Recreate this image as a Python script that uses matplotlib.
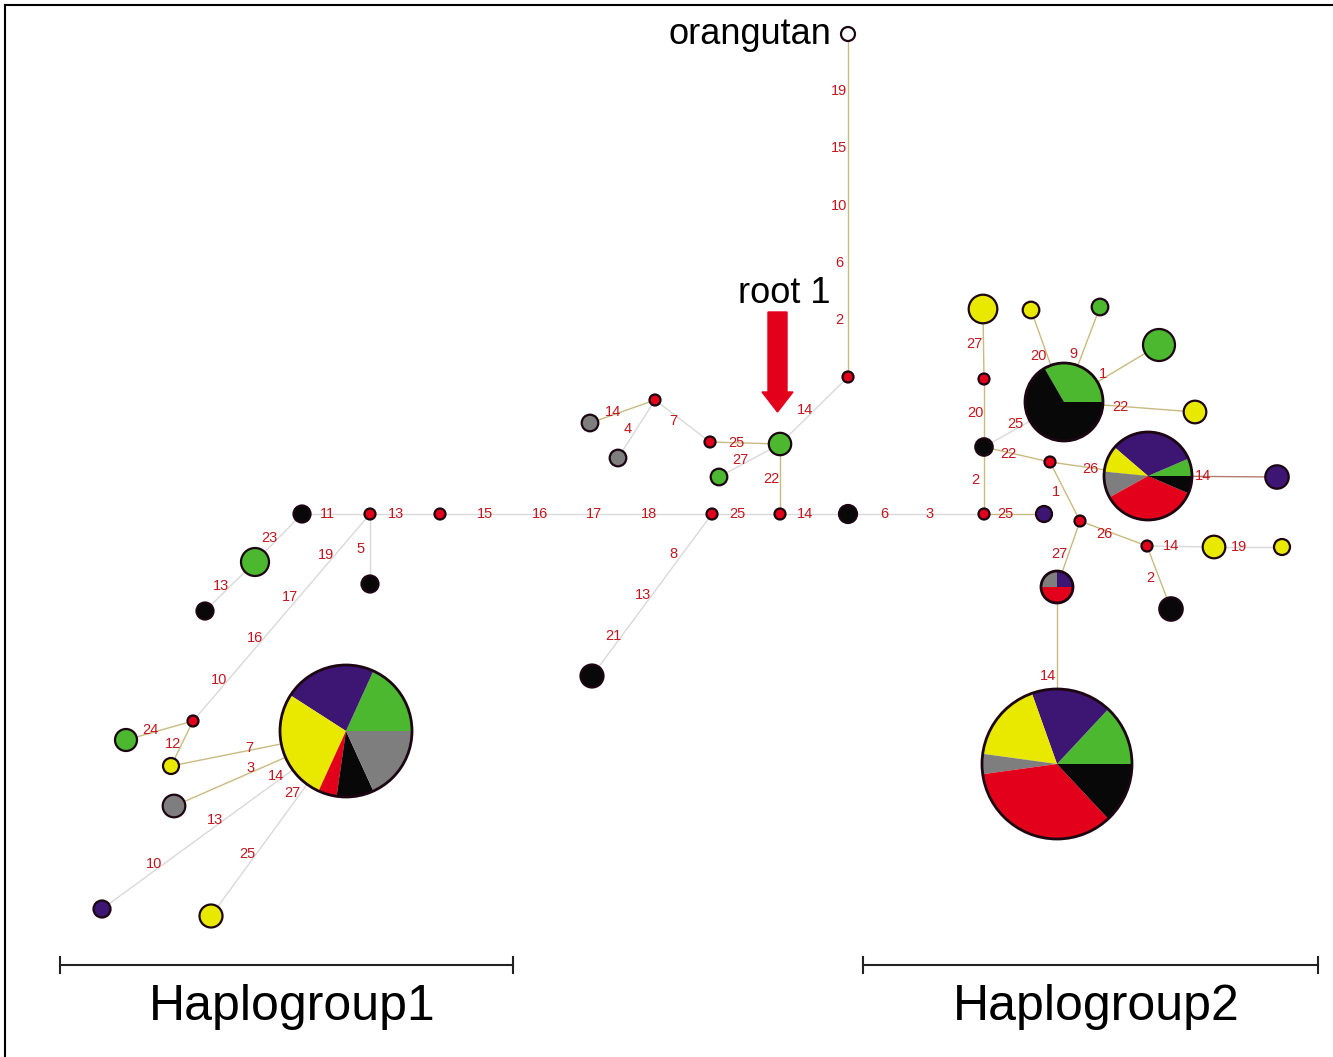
import matplotlib
matplotlib.use("Agg")
import matplotlib.pyplot as plt
from matplotlib.patches import Circle, Wedge, FancyArrow

plt.rcParams["font.family"] = ["Liberation Sans", "DejaVu Sans"]

W, H = 1333, 1057

# haplotype nodes (layout in pixel units, y grows downwards)
node_id = ["b1", "m1", "m2", "m3", "m4", "b2", "m5", "p1",
           "g1", "b3", "b4", "m6", "g2", "y1", "P1", "gr1", "p2", "y2",
           "b5", "g3", "m7", "g4", "m8", "O", "m9", "gr2", "gr3",
           "b6", "m10", "y3", "P2", "y4", "g5", "g6", "y5", "m11", "P3", "p3",
           "m12", "m13", "y6", "y7", "b7", "P4", "P5"]
node_x = [302, 370, 440, 712, 780, 848, 984, 1044,
          255, 205, 370, 193, 126, 171, 346, 174, 102, 211,
          592, 780, 710, 719, 848, 848, 655, 590, 618,
          984, 984, 983, 1064, 1031, 1100, 1159, 1195, 1050, 1148, 1277,
          1080, 1147, 1214, 1282, 1171, 1057, 1057]
node_y = [514, 514, 514, 514, 514, 514, 514, 514,
          562, 611, 584, 721, 740, 766, 731, 806, 909, 916,
          676, 444, 442, 477, 377, 34, 400, 423, 458,
          447, 379, 309, 402, 310, 307, 345, 412, 462, 476, 477,
          521, 546, 547, 547, 609, 587, 764]
node_r = [8.5, 5.5, 5.5, 5.5, 5.5, 9, 5.5, 8,
          14, 8.5, 8.5, 5.5, 11, 8, 66, 11.3, 8.5, 11.5,
          11.5, 11.2, 5.5, 8.3, 5.5, 7, 5.5, 8.3, 8.3,
          8.7, 5.5, 14.3, 39, 8.3, 8.3, 16, 11.3, 5.5, 44, 11.7,
          5.5, 5.5, 11.3, 8, 11.7, 16, 75]
node_kind = ["black", "median", "median", "median", "median", "black", "median", "purple",
             "green", "black", "black", "median", "green", "yellow", "pie", "gray", "purple", "yellow",
             "black", "green", "median", "green", "median", "outgroup", "median", "gray", "gray",
             "black", "median", "yellow", "pie", "yellow", "green", "green", "yellow", "median", "pie", "purple",
             "median", "median", "yellow", "yellow", "black", "pie", "pie"]

# shared haplotypes: slice order counter-clockwise from 3 o'clock
pie_groups = {
    "P1": ["green", "purple", "yellow", "median", "black", "gray"],
    "P2": ["green", "black"],
    "P3": ["green", "purple", "yellow", "gray", "median", "black"],
    "P4": ["purple", "gray", "median"],
    "P5": ["green", "purple", "yellow", "gray", "median", "black"],
}
pie_counts = {
    "P1": [4, 5, 6, 1, 2, 4],
    "P2": [1, 2],
    "P3": [1, 5, 1.5, 1.5, 5.5, 1],
    "P4": [1, 1, 2],
    "P5": [3, 4, 4, 1, 8, 3],
}

# network links and the mutated sites on each
edge_from = ["b1", "m1", "m2", "m3", "m4", "b2", "m5",
             "b1", "g1", "m1", "m1", "m6", "m6",
             "P1", "P1", "P1", "P1",
             "m3", "m4", "g3", "g3", "g3", "m8", "m7", "m9", "m9",
             "m5", "b6", "m10", "b6", "b6", "m11", "P3",
             "m11", "m12", "m13", "y6", "m13", "m12", "P4",
             "P2", "P2", "P2", "P2"]
edge_to = ["m1", "m2", "m3", "m4", "b2", "m5", "p1",
           "g1", "b3", "b4", "m6", "g2", "y1",
           "y1", "gr1", "p2", "y2",
           "b5", "g3", "m7", "g4", "m8", "O", "m9", "gr2", "gr3",
           "b6", "m10", "y3", "P2", "m11", "P3", "p3",
           "m12", "m13", "y6", "y7", "b7", "P4", "P5",
           "y4", "g5", "g6", "y5"]
edge_sites = [[11], [13], [15, 16, 17, 18], [25], [14], [6, 3], [25],
              [23], [13], [5], [19, 17, 16, 10], [24], [12],
              [7], [3], [14, 13, 10], [27, 25],
              [8, 13, 21], [22], [25], [27], [14], [2, 6, 10, 15, 19], [7], [14], [4],
              [2], [20], [27], [25], [22], [26], [14],
              [1], [26], [14], [19], [2], [27], [14],
              [20], [9], [1], [22]]
edge_tone = ["g", "g", "g", "g", "g", "g", "t",
             "g", "g", "g", "g", "t", "t",
             "t", "t", "g", "g",
             "g", "t", "t", "g", "g", "t", "g", "t", "g",
             "t", "t", "t", "g", "t", "t", "b",
             "t", "t", "g", "g", "t", "t", "t",
             "t", "t", "t", "t"]

group_names = ["Haplogroup1", "Haplogroup2"]
group_x0 = [60, 863]
group_x1 = [513, 1318]

colors = {"green": "#4bb82f", "purple": "#3c1672", "yellow": "#e9e900",
          "gray": "#7e7e7e", "black": "#080808", "median": "#e2001a",
          "outgroup": "white"}
tones = {"g": "#d9d9d9", "t": "#c9ba80", "b": "#b47c6c"}
outline = "#1c0612"
site_color = "#c3161f"

fig = plt.figure(figsize=(W / 100, H / 100), dpi=100)
ax = fig.add_axes([0, 0, 1, 1])
ax.set_xlim(0, W)
ax.set_ylim(H, 0)
ax.axis("off")

pos = {n: (x, y) for n, x, y in zip(node_id, node_x, node_y)}

for a, b, sites, tone in zip(edge_from, edge_to, edge_sites, edge_tone):
    (x1, y1), (x2, y2) = pos[a], pos[b]
    ax.plot([x1, x2], [y1, y2], color=tones[tone], lw=1.0, zorder=1)
    n = len(sites)
    for k, s in enumerate(sites):
        t = (k + 1) / (n + 1)
        ax.annotate(str(s), (x1 + t * (x2 - x1), y1 + t * (y2 - y1)),
                    xytext=(-9, 0), textcoords="offset pixels",
                    ha="center", va="center", fontsize=10.5,
                    color=site_color, zorder=2)

for n, x, y, r, kind in zip(node_id, node_x, node_y, node_r, node_kind):
    if kind == "pie":
        counts = pie_counts[n]
        total = sum(counts)
        start = 0.0
        for grp, c in zip(pie_groups[n], counts):
            end = start + 360.0 * c / total
            # y axis is flipped, so negate the angles to keep them counter-clockwise
            ax.add_patch(Wedge((x, y), r, -end, -start, facecolor=colors[grp],
                               edgecolor="none", zorder=3))
            start = end
        ax.add_patch(Circle((x, y), r, facecolor="none", edgecolor=outline,
                            lw=2.0, zorder=4))
    else:
        ax.add_patch(Circle((x, y), r, facecolor=colors[kind], edgecolor=outline,
                            lw=1.6, zorder=3))

ax.text(831, 44, "orangutan", ha="right", va="baseline", fontsize=26, color="black")
ax.text(738, 303, "root 1", ha="left", va="baseline", fontsize=26, color="black")
ax.add_patch(FancyArrow(777.5, 312, 0, 100, width=19, head_width=31, head_length=20,
                        length_includes_head=True, color="#e2001a", zorder=5))

for name, x0, x1 in zip(group_names, group_x0, group_x1):
    ax.plot([x0, x1], [965, 965], color="#222222", lw=1.5)
    ax.plot([x0, x0], [957, 973], color="#222222", lw=1.5)
    ax.plot([x1, x1], [957, 973], color="#222222", lw=1.5)
    ax.text((x0 + x1) / 2 + 6, 1020, name, ha="center", va="baseline", fontsize=36)

# frame: top and left edges only
ax.plot([5, W], [5, 5], color="black", lw=1.5)
ax.plot([5, 5], [5, H], color="black", lw=1.5)

fig.savefig("out.png", dpi=100)
